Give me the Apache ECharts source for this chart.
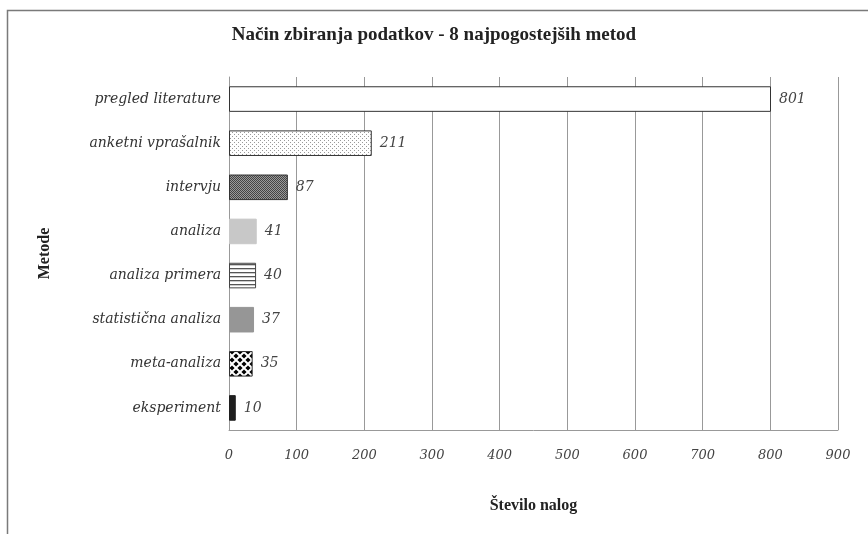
<!DOCTYPE html>
<html><head><meta charset="utf-8">
<script src="https://cdn.jsdelivr.net/npm/echarts@6/dist/echarts.min.js"></script>
<style>html,body{margin:0;padding:0;background:#fff}#c{width:868px;height:534px}</style>
</head><body><div id="c"></div>
<script>
const categories = ['eksperiment','meta-analiza','statistična analiza','analiza primera','analiza','intervju','anketni vprašalnik','pregled literature'];
const values = [10, 35, 37, 40, 41, 87, 211, 801];
const xTicks = [0,100,200,300,400,500,600,700,800,900];

function pat(w, h, draw) {
  const c = document.createElement('canvas'); c.width = w; c.height = h;
  const g = c.getContext('2d'); draw(g, w, h);
  return { image: c, repeat: 'repeat' };
}
const fills = [
  '#1e1e1e',
  pat(8, 8, (g) => { g.fillStyle = '#fff'; g.fillRect(0,0,8,8); g.fillStyle = '#000';
    const d = (x,y)=>{g.beginPath();g.moveTo(x,y-2.6);g.lineTo(x+2.6,y);g.lineTo(x,y+2.6);g.lineTo(x-2.6,y);g.closePath();g.fill();};
    d(4,4); d(0,0); d(8,0); d(0,8); d(8,8); }),
  '#969696',
  pat(4, 4, (g) => { g.fillStyle = '#fff'; g.fillRect(0,0,4,4); g.fillStyle = '#555'; g.fillRect(0,0,4,1.3); }),
  '#c8c8c8',
  pat(2, 2, (g) => { g.fillStyle = '#9a9a9a'; g.fillRect(0,0,2,2); g.fillStyle = '#444'; g.fillRect(0,0,1,1); g.fillRect(1,1,1,1); }),
  pat(4, 4, (g) => { g.fillStyle = '#fff'; g.fillRect(0,0,4,4); g.fillStyle = '#999'; g.fillRect(0,0,1,1); g.fillRect(2,2,1,1); }),
  '#ffffff'
];
const borders = ['#1e1e1e','#333','#969696','#444','#c8c8c8','#333','#333','#333'];

const serif = '"Liberation Serif", "DejaVu Serif", serif';
const italic = '"DejaVu Serif", "Liberation Serif", serif';
const chart = echarts.init(document.getElementById('c'), null, { renderer: 'canvas' });
chart.setOption({
  animation: false,
  backgroundColor: '#fff',
  graphic: [{ type: 'rect', shape: { x: 7.5, y: 10.5, width: 900, height: 600 }, style: { fill: 'none', stroke: '#7a7a7a', lineWidth: 1.5 } }],
  title: { text: 'Način zbiranja podatkov - 8 najpogostejših metod', left: 'center', top: 21,
    textStyle: { fontFamily: serif, fontWeight: 'bold', fontSize: 19, color: '#222' } },
  grid: { left: 229, right: 30, top: 77, bottom: 104 },
  xAxis: { type: 'value', min: 0, max: 900, interval: 100,
    name: 'Število nalog', nameLocation: 'middle', nameGap: 68,
    nameTextStyle: { fontFamily: serif, fontWeight: 'bold', fontSize: 16, color: '#222' },
    axisLine: { show: true, lineStyle: { color: '#999' } }, axisTick: { show: false },
    axisLabel: { fontFamily: italic, fontStyle: 'italic', fontSize: 13, color: '#444', margin: 19 },
    splitLine: { show: true, lineStyle: { color: '#999', width: 1 } } },
  yAxis: { type: 'category', data: categories,
    name: 'Metode', nameLocation: 'middle', nameGap: 176, nameRotate: 90,
    nameTextStyle: { fontFamily: serif, fontWeight: 'bold', fontSize: 16, color: '#222' },
    axisLine: { show: true, lineStyle: { color: '#999' } },
    axisTick: { show: false },
    axisLabel: { fontFamily: italic, fontStyle: 'italic', fontSize: 14, color: '#333', margin: 8 } },
  series: [{ type: 'bar', barWidth: '58%',
    data: values.map((v, i) => ({ value: v, itemStyle: { color: fills[i], borderColor: borders[i], borderWidth: 1 } })),
    label: { show: true, position: 'right', distance: 8, fontFamily: italic, fontStyle: 'italic', fontSize: 14, color: '#444' } }]
});
</script></body></html>
